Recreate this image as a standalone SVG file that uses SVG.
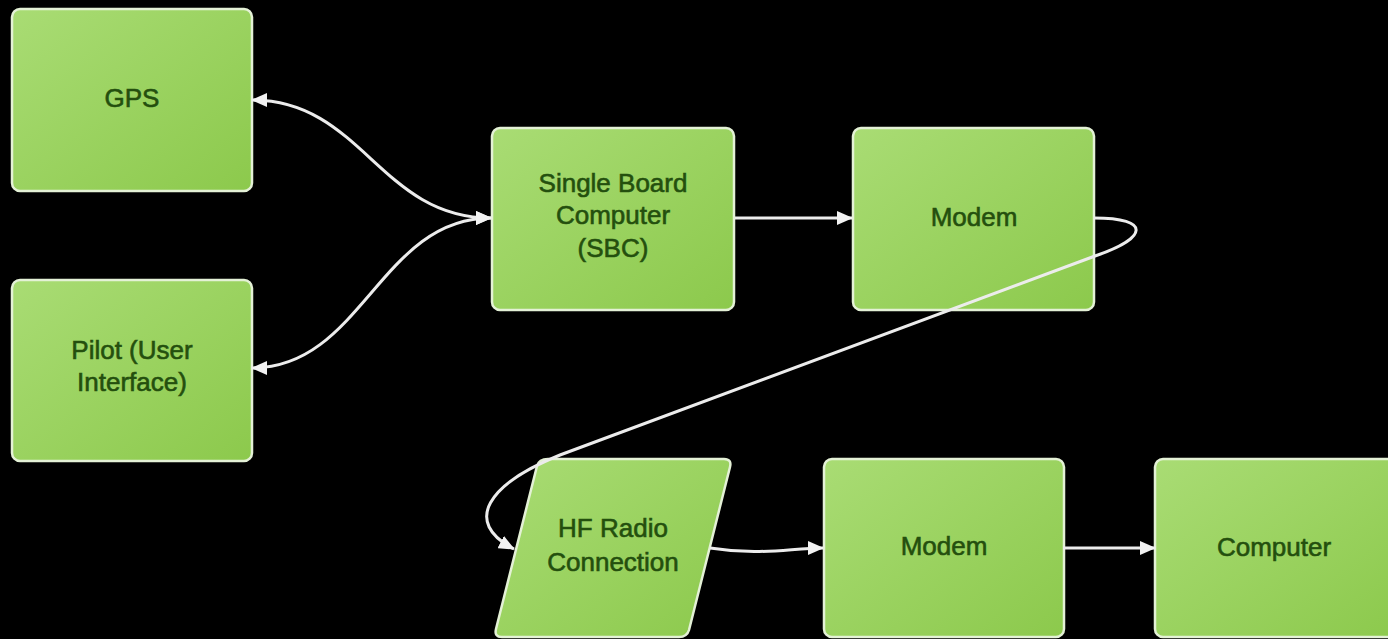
<svg xmlns="http://www.w3.org/2000/svg" width="1388" height="639" viewBox="0 0 1388 639">
<defs>
<linearGradient id="g" x1="0" y1="0" x2="1" y2="1">
<stop offset="0" stop-color="#a9dc74"/>
<stop offset="1" stop-color="#8cc94c"/>
</linearGradient>
<marker id="ah" viewBox="0 0 16 14" refX="15" refY="7" markerWidth="16" markerHeight="14" markerUnits="userSpaceOnUse" orient="auto-start-reverse">
<path d="M0,0 L16,7 L0,14 Z" fill="#f2f2f2"/>
</marker>
<style>
.box{fill:url(#g);stroke:#e4f1d6;stroke-width:2.5}
.t{font-family:"Liberation Sans",Arial,sans-serif;font-size:26px;fill:#244f0e;stroke:#244f0e;stroke-width:0.6;text-anchor:middle}
.c{fill:none;stroke:#ececec;stroke-width:3}
</style>
</defs>
<rect width="1388" height="639" fill="#000"/>
<g id="gps">
<rect class="box" x="12" y="9" width="240" height="182" rx="8"/>
<text class="t" x="132" y="107">GPS</text>
</g>
<g id="pilot">
<rect class="box" x="12" y="280" width="240" height="181" rx="8"/>
<text class="t" x="132" y="359">Pilot (User</text>
<text class="t" x="132" y="391">Interface)</text>
</g>
<g id="sbc">
<rect class="box" x="492" y="128" width="242" height="182" rx="8"/>
<text class="t" x="613" y="192">Single Board</text>
<text class="t" x="613" y="224">Computer</text>
<text class="t" x="613" y="257">(SBC)</text>
</g>
<g id="modem1">
<rect class="box" x="853" y="128" width="241" height="182" rx="8"/>
<text class="t" x="974" y="226">Modem</text>
</g>
<g id="hf">
<path class="box" d="M548,459 L724,459 Q732,459 730,467 L689,630 Q687,637 679,637 L502,637 Q494,637 496,629 L537,466 Q539,459 548,459 Z"/>
<text class="t" x="613" y="537">HF Radio</text>
<text class="t" x="613" y="571">Connection</text>
</g>
<g id="modem2">
<rect class="box" x="824" y="459" width="240" height="178" rx="8"/>
<text class="t" x="944" y="555">Modem</text>
</g>
<g id="computer">
<rect class="box" x="1155" y="459" width="245" height="178" rx="8"/>
<text class="t" x="1274" y="556">Computer</text>
</g>
<g id="connectors">
<path class="c" d="M252,100 C362,100 380,218 491,218" marker-start="url(#ah)" marker-end="url(#ah)"/>
<path class="c" d="M252,368 C362,368 380,218 491,218" marker-start="url(#ah)" marker-end="url(#ah)"/>
<path class="c" d="M735,218 L852,218" marker-end="url(#ah)"/>
<path class="c" d="M1094,218 C1152,218 1148,238 1095,256 L560,455 C488,484 462,522 514,549" marker-end="url(#ah)"/>
<path class="c" d="M710,548 C760,556 790,548 823,548" marker-end="url(#ah)"/>
<path class="c" d="M1063,548 L1155,548" marker-end="url(#ah)"/>
</g>
</svg>
